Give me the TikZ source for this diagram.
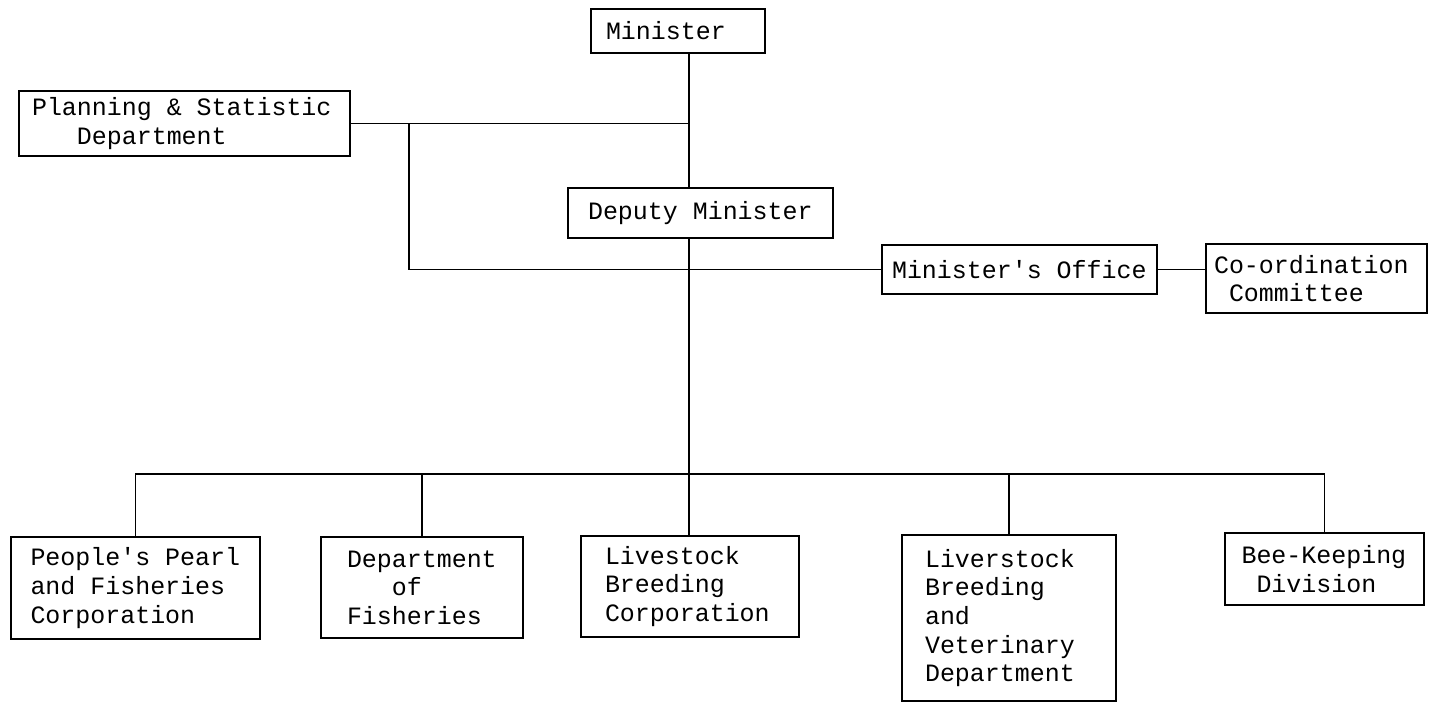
\documentclass[tikz,border=0pt]{standalone}
\usepackage{fontspec}
\setmonofont{Liberation Mono}
\newcommand{\msp}{\phantom{x}}
\begin{document}
\begin{tikzpicture}[x=0.02cm,y=-0.02cm,
  box/.style={draw,line width=1.2pt,inner xsep=0pt,inner ysep=0pt,align=left,
    font=\ttfamily\fontsize{14.2}{16.3}\selectfont},
  conn/.style={line width=1pt}]
\useasboundingbox (0,0) rectangle (1429,703);
% top
\node[box,minimum width=3.48cm,minimum height=0.88cm,text width=2.88cm] (minister) at (678,31) {Minister};
\node[box,minimum width=6.62cm,minimum height=1.30cm,text width=6.10cm] (planning) at (184.5,123.5) {Planning\msp\&\msp Statistic\\\phantom{xxx}Department};
\node[box,minimum width=5.30cm,minimum height=1.00cm,text width=4.50cm] (deputy) at (700.5,213) {Deputy\msp Minister};
\node[box,minimum width=5.50cm,minimum height=0.98cm,text width=5.10cm] (office) at (1019.5,269.5) {Minister's\msp Office};
\node[box,minimum width=4.42cm,minimum height=1.38cm,text width=4.10cm] (coord) at (1316.5,278.5) {Co-ordination\\\phantom{x}Committee};
% bottom
\node[box,minimum width=4.98cm,minimum height=2.04cm,text width=4.20cm] (people) at (135.5,588) {People's\msp Pearl\\and\msp Fisheries\\Corporation};
\node[box,minimum width=4.04cm,minimum height=2.02cm,text width=3.00cm] (fish) at (422,587.5) {Department\\\phantom{xxx}of\\Fisheries};
\node[box,minimum width=4.36cm,minimum height=2.02cm,text width=3.40cm] (livcorp) at (690,586.5) {Livestock\\Breeding\\Corporation};
\node[box,minimum width=4.28cm,minimum height=3.32cm,text width=3.36cm] (livvet) at (1009,618) {Liverstock\\Breeding\\and\\Veterinary\\Department};
\node[box,minimum width=3.98cm,minimum height=1.44cm,text width=3.32cm] (bee) at (1324.5,569) {Bee-Keeping\\\phantom{x}Division};
% connectors
\coordinate (trunk) at (689,0);
\coordinate (branch) at (409,123.5);
\coordinate (bus) at (0,474);
\draw[conn] (minister.south -| trunk) -- (deputy.north -| trunk);
\draw[conn] (planning.east) -- (planning.east -| trunk);
\draw[conn] (branch) |- (office.west);
\draw[conn] (office.east) -- (coord.west |- office.east);
\draw[conn] (deputy.south -| trunk) -- (livcorp.north -| trunk);
\draw[conn] (people.north) |- (bee.north |- bus) -- (bee.north);
\draw[conn] (fish.north) -- (fish.north |- bus);
\draw[conn] (livvet.north) -- (livvet.north |- bus);
\end{tikzpicture}
\end{document}
